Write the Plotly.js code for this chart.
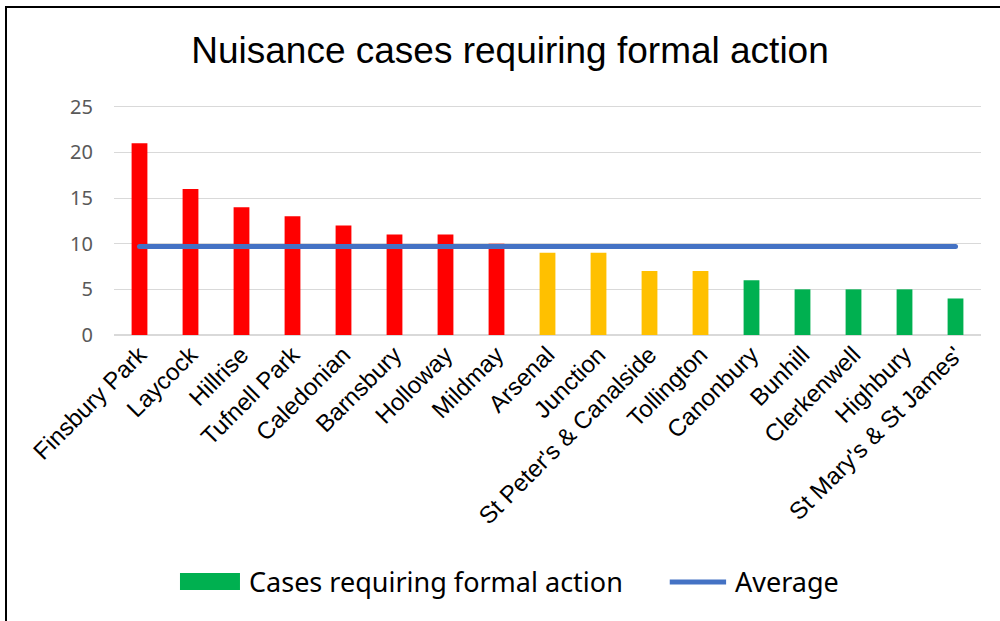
<!DOCTYPE html>
<html><head><meta charset="utf-8">
<script src="https://cdn.plot.ly/plotly-3.0.1.min.js"></script>
<style>
html,body{margin:0;padding:0;background:#fff;}
#wrap{position:relative;width:1000px;height:621px;}
#chart{width:1000px;height:621px;}
#frame{position:absolute;left:5px;top:6px;width:1100px;height:700px;border-left:2px solid #000;border-top:2px solid #000;pointer-events:none;}
.scatterlayer path.js-line{stroke-linecap:round;}
</style></head>
<body>
<div id="wrap"><div id="chart"></div><div id="frame"></div></div>
<script>
const categories = ["Finsbury Park","Laycock","Hillrise","Tufnell Park","Caledonian","Barnsbury","Holloway","Mildmay","Arsenal","Junction","St Peter's & Canalside","Tollington","Canonbury","Bunhill","Clerkenwell","Highbury","St Mary's & St James'"];
const cases = [21,16,14,13,12,11,11,10,9,9,7,7,6,5,5,5,4];
const average = [9.7,9.7,9.7,9.7,9.7,9.7,9.7,9.7,9.7,9.7,9.7,9.7,9.7,9.7,9.7,9.7,9.7];
const barColors = ["#FF0000","#FF0000","#FF0000","#FF0000","#FF0000","#FF0000","#FF0000","#FF0000","#FFC000","#FFC000","#FFC000","#FFC000","#00B050","#00B050","#00B050","#00B050","#00B050"];
const yTicks = [0,5,10,15,20,25];
const seriesNames = ["Cases requiring formal action","Average"];
const legendColors = ["#00B050","#4472C4"];

const traces = [
  {type:'bar', x:categories, y:cases, marker:{color:barColors}, width:0.31, name:seriesNames[0], showlegend:false},
  {type:'scatter', mode:'lines', x:categories, y:average, line:{color:legendColors[1], width:5}, name:seriesNames[1], showlegend:false}
];

const legendFont = {family:"'Noto Sans', sans-serif", size:27, color:'#000'};
const layout = {
  width:1000, height:621,
  margin:{l:114, r:19, t:104, b:286},
  paper_bgcolor:'#fff', plot_bgcolor:'#fff',
  barmode:'overlay',
  title:{text:'Nuisance cases requiring formal action', font:{family:"'Liberation Sans', Arial, sans-serif", size:37, color:'#000'}, x:0.51, xanchor:'center', y:0.92, yanchor:'middle'},
  xaxis:{type:'category', tickangle:-45, tickfont:{family:"'Liberation Sans', Arial, sans-serif", size:24, color:'#000'}, showgrid:false, showline:false, ticks:'', automargin:false},
  yaxis:{range:[0,25.3], tickvals:yTicks, tickfont:{family:"'Noto Sans', sans-serif", size:20, color:'#595959'}, gridcolor:'#D9D9D9', gridwidth:1, zeroline:true, zerolinecolor:'#D9D9D9', zerolinewidth:2, showline:false, ticks:'', ticklabelstandoff:20, automargin:false},
  showlegend:false,
  shapes:[
    {type:'rect', xref:'paper', yref:'paper', x0:0.0761, x1:0.1453, y0:-1.030, y1:-1.104, fillcolor:legendColors[0], line:{width:0}},
    {type:'line', xref:'paper', yref:'paper', x0:0.641, x1:0.706, y0:-1.069, y1:-1.069, line:{color:legendColors[1], width:5}}
  ],
  annotations:[
    {xref:'paper', yref:'paper', x:0.1534, y:-1.069, xanchor:'left', yanchor:'middle', text:seriesNames[0], showarrow:false, font:legendFont},
    {xref:'paper', yref:'paper', x:0.714, y:-1.069, xanchor:'left', yanchor:'middle', text:seriesNames[1], showarrow:false, font:legendFont}
  ]
};

Plotly.newPlot('chart', traces, layout, {displayModeBar:false, staticPlot:true});
</script>
</body></html>
